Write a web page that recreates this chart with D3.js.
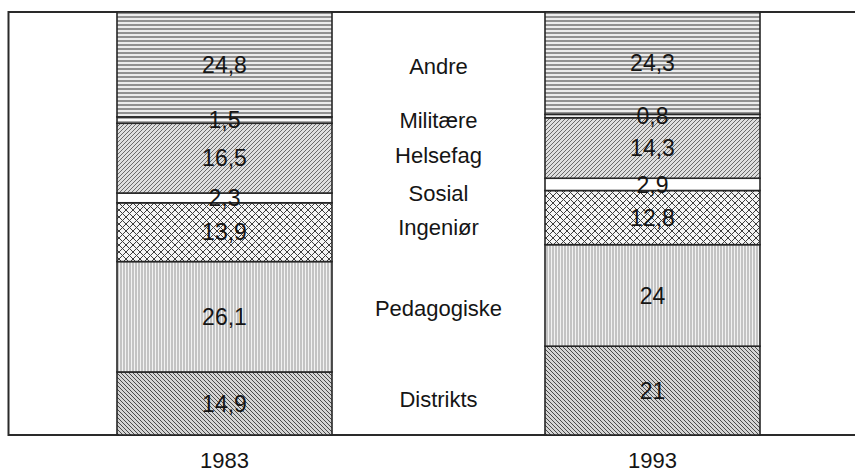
<!DOCTYPE html>
<html lang="no">
<head>
<meta charset="UTF-8">
<script src="https://d3js.org/d3.v7.min.js"></script>
<title>Studenter etter fagfelt</title>
<style>
  body { margin: 0; background: #fff; }
  text { font-family: "Liberation Sans", Arial, Helvetica, sans-serif; fill: #151515; }
</style>
</head>
<body>
<svg id="chart" width="855" height="474"></svg>
<script>
// data, stacked from bottom to top
const categories = ["Distrikts", "Pedagogiske", "Ingeniør", "Sosial", "Helsefag", "Militære", "Andre"];
const years = ["1983", "1993"];
const values1983 = [14.9, 26.1, 13.9, 2.3, 16.5, 1.5, 24.8];
const values1993 = [21, 24, 12.8, 2.9, 14.3, 0.8, 24.3];
const valueLabels1983 = ["14,9", "26,1", "13,9", "2,3", "16,5", "1,5", "24,8"];
const valueLabels1993 = ["21", "24", "12,8", "2,9", "14,3", "0,8", "24,3"];

const svg = d3.select("#chart");
const frame = { left: 8.5, top: 12, bottom: 435, right: 855 };
const barWidth = 215;

const x = d3.scalePoint().domain(years).range([224.5, 652.5]);
const y = d3.scaleLinear().domain([0, 100]).range([frame.bottom, frame.top]);

// patterns
const defs = svg.append("defs");
const addLines = (id, size, bg, stroke, width, lines) => {
    const p = defs.append("pattern")
        .attr("id", id)
        .attr("patternUnits", "userSpaceOnUse")
        .attr("width", size).attr("height", size);
    p.append("rect").attr("width", size).attr("height", size).attr("fill", bg);
    lines.forEach(d => {
        p.append("path").attr("d", d)
            .attr("stroke", stroke).attr("stroke-width", width).attr("fill", "none");
    });
};
addLines("p-andre", 4, "#ececec", "#6a6a6a", 1.4, ["M0,1 H4"]);
addLines("p-mil", 4, "#fafafa", "#555", 1, ["M0,2 H4"]);
addLines("p-helse", 4, "#dedede", "#6a6a6a", 1, ["M-1,1 L1,-1", "M0,4 L4,0", "M3,5 L5,3"]);
addLines("p-sosial", 4, "#ffffff", "#ffffff", 0, []);
addLines("p-ing", 7, "#f4f4f4", "#3c3c3c", 1, ["M0,0 L7,7", "M0,7 L7,0"]);
addLines("p-ped", 3, "#f2f2f2", "#959595", 1, ["M1,0 V3"]);
addLines("p-dist", 4, "#d4d4d4", "#4a4a4a", 1, ["M-1,3 L1,5", "M0,0 L4,4", "M3,-1 L5,1"]);

const patternFor = {
    "Andre": "url(#p-andre)",
    "Militære": "url(#p-mil)",
    "Helsefag": "url(#p-helse)",
    "Sosial": "url(#p-sosial)",
    "Ingeniør": "url(#p-ing)",
    "Pedagogiske": "url(#p-ped)",
    "Distrikts": "url(#p-dist)"
};

// build stacked segments for each year
const series = { "1983": values1983, "1993": values1993 };
const labels = { "1983": valueLabels1983, "1993": valueLabels1993 };
const segments = [];
years.forEach(year => {
    let acc = 0;
    series[year].forEach((v, i) => {
        segments.push({ year, cat: categories[i], y0: acc, y1: Math.min(acc + v, 100), label: labels[year][i] });
        acc += v;
    });
});

// frame (no right side)
svg.append("path")
    .attr("d", `M${frame.right},${frame.top} H${frame.left} V${frame.bottom} H${frame.right}`)
    .attr("fill", "none").attr("stroke", "#2a2a2a").attr("stroke-width", 2);

// bars
svg.append("g").selectAll("rect")
    .data(segments)
    .join("rect")
    .attr("x", d => x(d.year) - barWidth / 2)
    .attr("y", d => y(d.y1))
    .attr("width", barWidth)
    .attr("height", d => y(d.y0) - y(d.y1))
    .attr("fill", d => patternFor[d.cat])
    .attr("stroke", "#262626")
    .attr("stroke-width", 1.6);

// value labels inside the segments
svg.append("g").selectAll("text")
    .data(segments)
    .join("text")
    .attr("x", d => x(d.year))
    .attr("y", d => y((d.y0 + d.y1) / 2))
    .attr("dy", "0.36em")
    .attr("text-anchor", "middle")
    .attr("font-size", 23)
    .text(d => d.label);

// category labels between the bars, at the mean height of the two segments
const midY = cat => d3.mean(years, yr => {
    const s = segments.find(e => e.year === yr && e.cat === cat);
    return y((s.y0 + s.y1) / 2);
});
svg.append("g").selectAll("text")
    .data(categories)
    .join("text")
    .attr("x", (x(years[0]) + x(years[1])) / 2)
    .attr("y", d => midY(d) + 2)
    .attr("dy", "0.36em")
    .attr("text-anchor", "middle")
    .attr("font-size", 22)
    .text(d => d);

// year labels
svg.append("g").selectAll("text")
    .data(years)
    .join("text")
    .attr("x", d => x(d))
    .attr("y", 460)
    .attr("dy", "0.36em")
    .attr("text-anchor", "middle")
    .attr("font-size", 22)
    .text(d => d);
</script>
</body>
</html>
